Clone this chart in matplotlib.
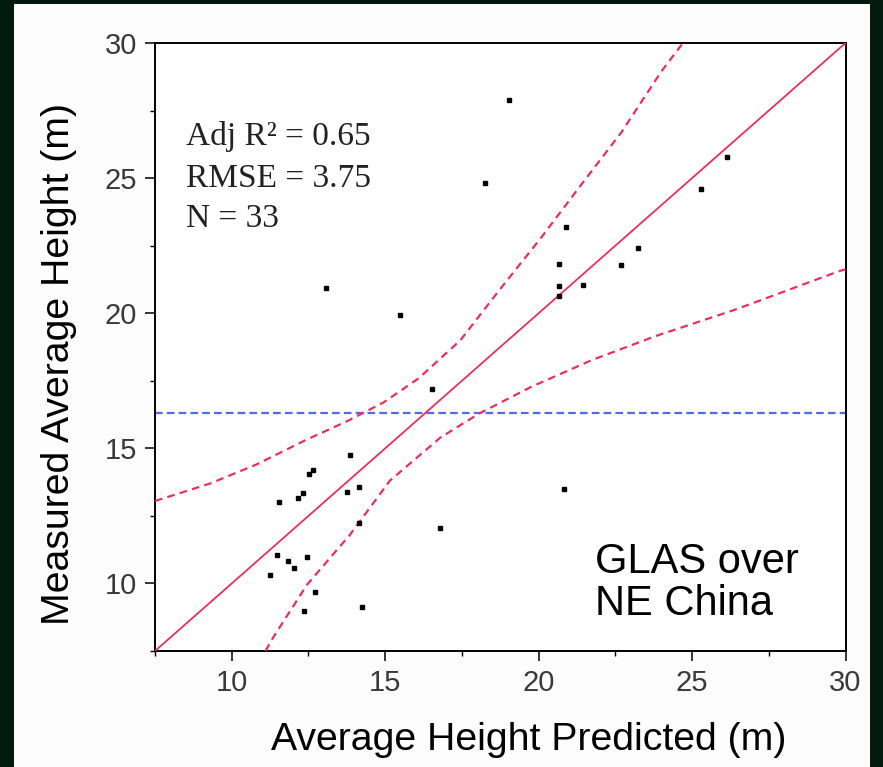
import matplotlib
matplotlib.use("Agg")
import matplotlib.pyplot as plt
from matplotlib.patches import Rectangle
from matplotlib.ticker import MultipleLocator

# ---- data ----
pred_x = [16.53, 13.86, 12.52, 12.66, 12.17, 12.31, 11.54, 13.75, 14.16, 14.16,
          16.80, 11.46, 11.82, 12.03, 12.44, 11.26, 12.71, 12.36, 14.23,
          18.25, 13.06, 15.47,
          19.02, 26.13, 25.30, 20.89, 23.24, 22.68, 20.68, 20.68, 20.68, 21.44,
          20.83]
meas_y = [17.19, 14.76, 14.05, 14.20, 13.18, 13.34, 13.00, 13.40, 13.56, 12.23,
          12.06, 11.04, 10.82, 10.56, 10.97, 10.32, 9.70, 8.99, 9.14,
          24.82, 20.92, 19.94,
          27.90, 25.79, 24.60, 23.18, 22.40, 21.77, 21.84, 20.99, 20.65, 21.05,
          13.51]

one_to_one_x = [7.5, 30.0]
one_to_one_y = [7.5, 30.0]

upper_band_x = [7.5, 9.3, 10.8, 12.4, 13.75, 14.95, 16.1, 17.45, 18.75, 20.05,
                21.35, 22.7, 24.0, 24.7]
upper_band_y = [13.05, 13.7, 14.4, 15.3, 16.0, 16.7, 17.6, 19.0, 20.9, 22.75,
                24.7, 26.7, 28.95, 30.0]

lower_band_x = [11.1, 11.35, 12.45, 13.85, 15.15, 16.8, 18.05, 19.75, 21.7,
                23.8, 26.4, 29.8, 30.0]
lower_band_y = [7.5, 8.0, 9.95, 11.8, 13.8, 15.4, 16.28, 17.27, 18.25,
                19.15, 20.13, 21.56, 21.62]

mean_measured = 16.3

x_limits = (7.5, 30)
y_limits = (7.5, 30)
major_ticks = [10, 15, 20, 25, 30]
x_label = "Average Height Predicted (m)"
y_label = "Measured Average Height (m)"
stats_lines = ["Adj R\u00b2 = 0.65", "RMSE = 3.75", "N = 33"]
region_text = "GLAS over\nNE China"

# ---- figure ----
plt.rcParams["lines.scale_dashes"] = False
W, H = 883, 767
fig = plt.figure(figsize=(W / 100, H / 100), dpi=100, facecolor="#021a0e")
fig.patches.append(Rectangle((14 / W, 0), 856 / W, 763 / H,
                             transform=fig.transFigure, facecolor="#fdfdfd",
                             edgecolor="none", zorder=-10))

ax = fig.add_axes([155 / W, 1 - 651 / H, (845.5 - 155) / W, (651 - 43) / H])
ax.set_facecolor("white")

red = "#e8305c"
blue = "#5566ee"

ax.plot(one_to_one_x, one_to_one_y, color=red, lw=1.3, zorder=3)
ax.plot(upper_band_x, upper_band_y, color=red, lw=1.6, dashes=(5.5, 3.8), zorder=3)
ax.plot(lower_band_x, lower_band_y, color=red, lw=1.6, dashes=(5.5, 3.8), zorder=3)
ax.axhline(mean_measured, color=blue, lw=1.6, dashes=(5.5, 3.0), zorder=2)
ax.plot(pred_x, meas_y, linestyle="none", marker="s", markersize=3,
        color="black", zorder=4)

ax.set_xlim(*x_limits)
ax.set_ylim(*y_limits)
ax.set_xticks(major_ticks)
ax.set_yticks(major_ticks)
ax.xaxis.set_minor_locator(MultipleLocator(2.5))
ax.yaxis.set_minor_locator(MultipleLocator(2.5))
ax.tick_params(which="major", direction="out", length=7, width=1.1,
               labelsize=21, labelcolor="#3a3a3a", pad=6)
ax.tick_params(which="minor", direction="out", length=3.5, width=1.0)
for lab in ax.get_xticklabels() + ax.get_yticklabels():
    lab.set_fontfamily("Liberation Sans")
for sp in ax.spines.values():
    sp.set_linewidth(1.4)

fig.text(529 / W, 1 - 750 / H, x_label, ha="center", va="baseline",
         fontsize=28.3, family="Liberation Sans", color="black")
fig.text(69 / W, 1 - 364 / H, y_label, ha="center", va="baseline", rotation=90,
         rotation_mode="anchor", fontsize=28.3, family="Liberation Sans",
         color="black")

for line, yb in zip(stats_lines, [145, 187, 227]):
    fig.text(186 / W, 1 - yb / H, line, ha="left", va="baseline",
             fontsize=24, family="Liberation Serif", color="#222222")

glas_lines = region_text.split("\n")
for line, yb in zip(glas_lines, [573, 615]):
    fig.text(595 / W, 1 - yb / H, line, ha="left", va="baseline",
             fontsize=30, family="Liberation Sans", color="black")

fig.savefig("out.png", dpi=100, facecolor=fig.get_facecolor())
